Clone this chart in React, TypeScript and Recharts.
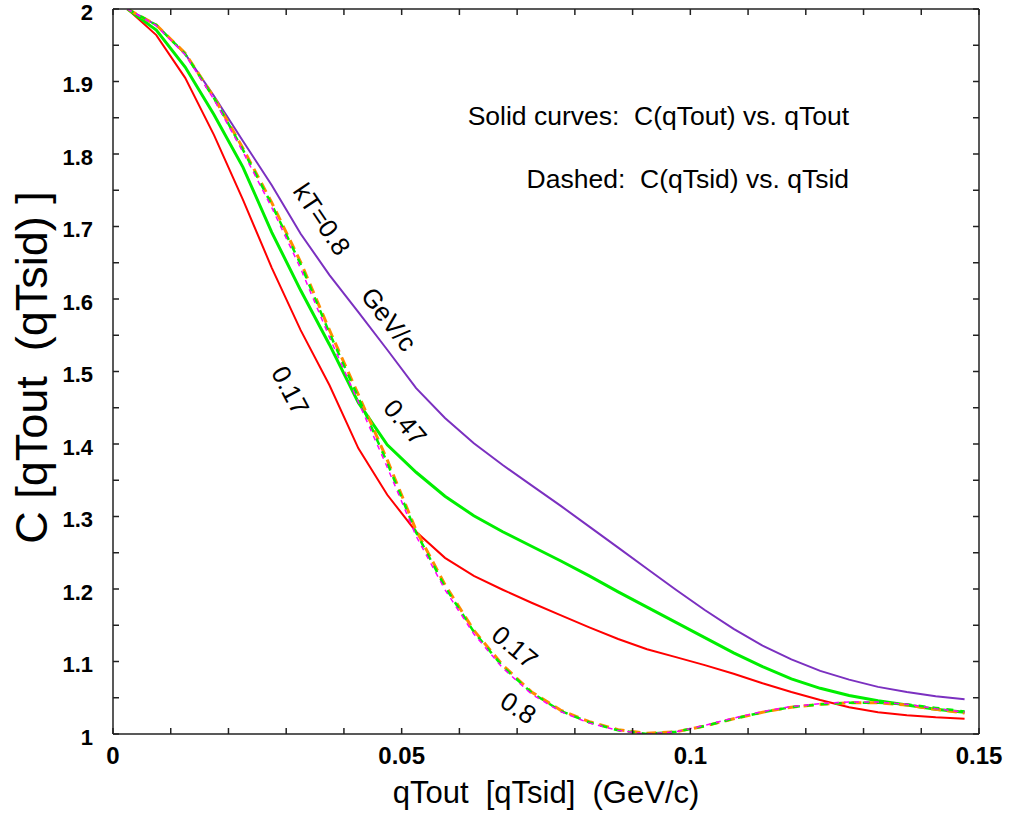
import React from "react";
import { LineChart, Line, XAxis, YAxis, ReferenceDot } from "recharts";

// x values (GeV/c)
const qValues = [
  0.0025, 0.0075, 0.0125, 0.0175, 0.0225, 0.0275, 0.0325, 0.0375, 0.0425, 0.0475,
  0.0525, 0.0575, 0.0625, 0.0675, 0.0725, 0.0775, 0.0825, 0.0875, 0.0925, 0.0975,
  0.1025, 0.1075, 0.1125, 0.1175, 0.1225, 0.1275, 0.1325, 0.1375, 0.1425, 0.1475,
];

// solid curves: C(qTout) vs qTout
const solidKT080 = [
  2.0, 1.978, 1.938, 1.88, 1.818, 1.757, 1.69, 1.633, 1.582, 1.53,
  1.477, 1.436, 1.401, 1.371, 1.343, 1.315, 1.286, 1.257, 1.228, 1.199,
  1.171, 1.145, 1.122, 1.103, 1.087, 1.075, 1.065, 1.058, 1.052, 1.048,
];
const solidKT047 = [
  2.0, 1.971, 1.92, 1.854, 1.782, 1.692, 1.612, 1.537, 1.457, 1.399,
  1.361, 1.328, 1.301, 1.279, 1.259, 1.239, 1.218, 1.196, 1.175, 1.154,
  1.133, 1.112, 1.093, 1.076, 1.063, 1.053, 1.046, 1.04, 1.034, 1.03,
];
const solidKT017 = [
  2.0, 1.964, 1.905, 1.826, 1.737, 1.643, 1.557, 1.481, 1.394, 1.33,
  1.279, 1.243, 1.218, 1.199, 1.181, 1.164, 1.147, 1.131, 1.117, 1.106,
  1.095, 1.083, 1.07, 1.058, 1.047, 1.037, 1.03, 1.026, 1.023, 1.021,
];

// dashed curves: C(qTsid) vs qTsid
const dashedOrange = [
  2.0, 1.978, 1.939, 1.878, 1.808, 1.733, 1.651, 1.557, 1.468, 1.378,
  1.281, 1.206, 1.143, 1.095, 1.058, 1.033, 1.017, 1.006, 1.001, 1.003,
  1.011, 1.021, 1.03, 1.037, 1.041, 1.043, 1.043, 1.04, 1.034, 1.029,
];
const dashedGreen = [
  2.0, 1.978, 1.938, 1.877, 1.806, 1.73, 1.648, 1.553, 1.464, 1.374,
  1.278, 1.203, 1.141, 1.093, 1.057, 1.032, 1.016, 1.005, 1.0, 1.003,
  1.011, 1.021, 1.03, 1.037, 1.041, 1.043, 1.043, 1.041, 1.036, 1.031,
];
const dashedMagenta = [
  2.0, 1.977, 1.937, 1.875, 1.803, 1.726, 1.642, 1.547, 1.458, 1.368,
  1.273, 1.199, 1.138, 1.091, 1.055, 1.031, 1.015, 1.005, 1.0, 1.003,
  1.012, 1.022, 1.031, 1.038, 1.042, 1.044, 1.044, 1.041, 1.035, 1.03,
];

const xTicks = [0, 0.01, 0.02, 0.03, 0.04, 0.05, 0.06, 0.07, 0.08, 0.09, 0.1, 0.11, 0.12, 0.13, 0.14, 0.15];
const xTickLabels = ["0", "0.05", "0.1", "0.15"];
const yTicks = [1, 1.05, 1.1, 1.15, 1.2, 1.25, 1.3, 1.35, 1.4, 1.45, 1.5, 1.55, 1.6, 1.65, 1.7, 1.75, 1.8, 1.85, 1.9, 1.95, 2];
const yTickLabels = ["1", "1.1", "1.2", "1.3", "1.4", "1.5", "1.6", "1.7", "1.8", "1.9", "2"];

// curve annotations: [x, y, text, angle]
const curveNotes: [number, number, string, number][] = [
  [0.0362, 1.71, "kT=0.8", 56],
  [0.0478, 1.572, "GeV/c", 52],
  [0.0307, 1.474, "0.17", 62],
  [0.0506, 1.43, "0.47", 50],
  [0.0696, 1.12, "0.17", 40],
  [0.0702, 1.036, "0.8", 33],
];
const textNotes: [number, number, string][] = [
  [0.1275, 1.853, "Solid curves:  C(qTout) vs. qTout"],
  [0.1275, 1.765, "Dashed:  C(qTsid) vs. qTsid"],
];

const data = qValues.map((q, i) => ({
  q,
  s80: solidKT080[i],
  s47: solidKT047[i],
  s17: solidKT017[i],
  dOr: dashedOrange[i],
  dGr: dashedGreen[i],
  dMa: dashedMagenta[i],
}));

const FONT = "'Liberation Sans', Arial, Helvetica, sans-serif";
const AXIS = "#222";

const fmtX = (v: number) => {
  const s = String(v);
  return xTickLabels.includes(s) ? s : "";
};
const fmtY = (v: number) => {
  const s = String(v);
  return yTickLabels.includes(s) ? s : "";
};

const YTick = (props: any) => {
  const { x, y, payload } = props;
  const s = fmtY(payload.value);
  if (!s) return null;
  return (
    <text
      x={x}
      y={y + 3}
      textAnchor="end"
      dominantBaseline="central"
      fontFamily={FONT}
      fontSize={22}
      fontWeight="bold"
      fill="#000"
    >
      {s}
    </text>
  );
};

const rotatedLabel = (text: string, angle: number) => (props: any) => {
  const vb = props.viewBox || {};
  const cx = (vb.x ?? 0) + (vb.width ?? 0) / 2;
  const cy = (vb.y ?? 0) + (vb.height ?? 0) / 2;
  return (
    <text
      x={cx}
      y={cy}
      textAnchor="middle"
      dominantBaseline="central"
      transform={`rotate(${angle}, ${cx}, ${cy})`}
      fontFamily={FONT}
      fontSize={26}
      fill="#000"
      style={{ whiteSpace: "pre" }}
    >
      {text}
    </text>
  );
};

const endLabel = (text: string) => (props: any) => {
  const vb = props.viewBox || {};
  const cx = (vb.x ?? 0) + (vb.width ?? 0) / 2;
  const cy = (vb.y ?? 0) + (vb.height ?? 0) / 2;
  return (
    <text
      x={cx}
      y={cy}
      textAnchor="end"
      dominantBaseline="central"
      fontFamily={FONT}
      fontSize={26.5}
      fill="#000"
      style={{ whiteSpace: "pre" }}
    >
      {text}
    </text>
  );
};

const xAxisLabel = (props: any) => {
  const vb = props.viewBox || {};
  return (
    <text
      x={vb.x + vb.width / 2}
      y={vb.y + 69}
      textAnchor="middle"
      fontFamily={FONT}
      fontSize={31}
      fill="#000"
      style={{ whiteSpace: "pre" }}
    >
      {"qTout  [qTsid]  (GeV/c)"}
    </text>
  );
};

const yAxisLabel = (props: any) => {
  const vb = props.viewBox || {};
  const cx = vb.x + 14;
  const cy = vb.y + vb.height / 2 - 4;
  return (
    <text
      x={cx}
      y={cy}
      textAnchor="middle"
      transform={`rotate(-90, ${cx}, ${cy})`}
      fontFamily={FONT}
      fontSize={45}
      fill="#000"
      style={{ whiteSpace: "pre" }}
    >
      {"C [qTout  (qTsid) ]"}
    </text>
  );
};

export default function App() {
  return (
    <div style={{ position: "absolute", left: 0, top: 0, width: 1010, height: 814, background: "#fff" }}>
      <LineChart
        width={1010}
        height={814}
        data={data}
        margin={{ top: 8, right: 30, bottom: 30, left: 33 }}
      >
        <XAxis
          xAxisId="bottom"
          dataKey="q"
          type="number"
          domain={[0, 0.15]}
          allowDataOverflow
          ticks={xTicks}
          interval={0}
          tickFormatter={fmtX}
          tickSize={-6}
          tickMargin={19}
          height={50}
          stroke={AXIS}
          strokeWidth={1.5}
          tick={{ fontFamily: FONT, fontSize: 24, fontWeight: "bold", fill: "#000" }}
          label={xAxisLabel}
        />
        <XAxis
          xAxisId="top"
          orientation="top"
          dataKey="q"
          type="number"
          domain={[0, 0.15]}
          allowDataOverflow
          ticks={xTicks}
          interval={0}
          tickFormatter={() => ""}
          tickSize={-6}
          height={1}
          stroke={AXIS}
          strokeWidth={1.5}
        />
        <YAxis
          yAxisId="left"
          type="number"
          domain={[1, 2]}
          allowDataOverflow
          ticks={yTicks}
          interval={0}
          tickSize={-6}
          tickMargin={26}
          width={80}
          stroke={AXIS}
          strokeWidth={1.5}
          tick={<YTick />}
          label={yAxisLabel}
        />
        <YAxis
          yAxisId="right"
          orientation="right"
          type="number"
          domain={[1, 2]}
          allowDataOverflow
          ticks={yTicks}
          interval={0}
          tickFormatter={() => ""}
          tickSize={-6}
          width={1}
          stroke={AXIS}
          strokeWidth={1.5}
        />

        <Line xAxisId="bottom" yAxisId="left" type="linear" dataKey="s80" stroke="#7B30C0" strokeWidth={2} dot={false} isAnimationActive={false} />
        <Line xAxisId="bottom" yAxisId="left" type="linear" dataKey="s17" stroke="#FF0000" strokeWidth={2} dot={false} isAnimationActive={false} />
        <Line xAxisId="bottom" yAxisId="left" type="linear" dataKey="s47" stroke="#00EE00" strokeWidth={3} dot={false} isAnimationActive={false} />
        <Line xAxisId="bottom" yAxisId="left" type="linear" dataKey="dOr" stroke="#FF8C00" strokeWidth={3} strokeDasharray="10 6" dot={false} isAnimationActive={false} />
        <Line xAxisId="bottom" yAxisId="left" type="linear" dataKey="dGr" stroke="#00EE00" strokeWidth={2.5} strokeDasharray="7 7" dot={false} isAnimationActive={false} />
        <Line xAxisId="bottom" yAxisId="left" type="linear" dataKey="dMa" stroke="#FF00FF" strokeWidth={1.5} strokeDasharray="5 5" dot={false} isAnimationActive={false} />

        {curveNotes.map(([x, y, t, a], i) => (
          <ReferenceDot
            key={"c" + i}
            xAxisId="bottom"
            yAxisId="left"
            x={x}
            y={y}
            r={1}
            fill="none"
            stroke="none"
            label={rotatedLabel(t, a)}
          />
        ))}
        {textNotes.map(([x, y, t], i) => (
          <ReferenceDot
            key={"t" + i}
            xAxisId="bottom"
            yAxisId="left"
            x={x}
            y={y}
            r={1}
            fill="none"
            stroke="none"
            label={endLabel(t)}
          />
        ))}
      </LineChart>
    </div>
  );
}
